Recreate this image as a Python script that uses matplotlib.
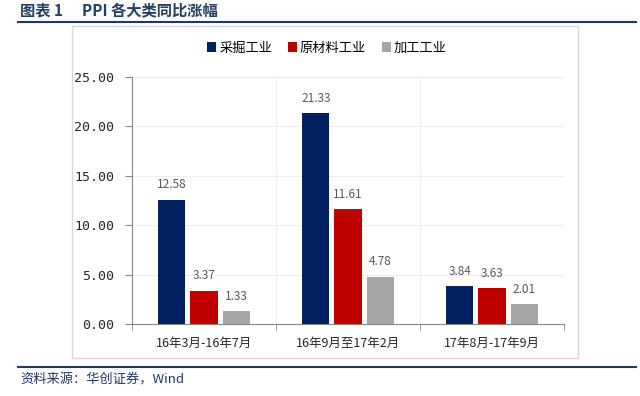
import numpy as np
import matplotlib
matplotlib.use('Agg')
import matplotlib.pyplot as plt
from matplotlib.patches import Rectangle
from matplotlib.lines import Line2D

plt.rcParams['font.family'] = ['Noto Sans CJK SC', 'DejaVu Sans']

# ---------------------------------------------------------
# data
# ---------------------------------------------------------
periods = ['16年3月-16年7月', '16年9月至17年2月', '17年8月-17年9月']
series_names = ['采掘工业', '原材料工业', '加工工业']
mining = [12.58, 21.33, 3.84]
raw_material = [3.37, 11.61, 3.63]
processing = [1.33, 4.78, 2.01]
colors = ['#002060', '#C00000', '#A6A6A6']

W, H = 640, 396
fig = plt.figure(figsize=(W / 100, H / 100), dpi=100)

# outer chart frame (light grey box)
fig.patches.append(Rectangle((72 / W, 1 - 358 / H), 506 / W, 332 / H,
                             transform=fig.transFigure, fill=False,
                             edgecolor='#D9D9D9', lw=1))

# title + rule lines
navy = '#1F3864'
fig.text(20 / W, 1 - 10 / H, '图表 1', fontsize=11,
         fontweight='bold', color='#243F60', va='center', ha='left')
fig.text(82 / W, 1 - 10 / H, 'PPI 各大类同比涨幅', fontsize=11,
         fontweight='bold', color='#243F60', va='center', ha='left')
fig.add_artist(Line2D([18 / W, 636 / W], [1 - 22 / H] * 2,
                      transform=fig.transFigure, color=navy, lw=1.5))
fig.add_artist(Line2D([18 / W, 636 / W], [1 - 367 / H] * 2,
                      transform=fig.transFigure, color=navy, lw=1.5))
fig.text(20 / W, 1 - 380 / H, '资料来源：华创证券，Wind', fontsize=9.5,
         style='italic', color=navy, va='center', ha='left')

ax = fig.add_axes([132 / W, 1 - 324 / H, 432 / W, 247 / H])

x = np.arange(len(periods))
pitch = 0.223
bw = 0.188
all_series = [mining, raw_material, processing]
for i, (vals, name, c) in enumerate(zip(all_series, series_names, colors)):
    pos = x + (i - 1) * pitch
    bars = ax.bar(pos, vals, width=bw, color=c, label=name, zorder=3)
    for b, v in zip(bars, vals):
        ax.annotate(f'{v:.2f}', (b.get_x() + b.get_width() / 2, v),
                    xytext=(0, 6), textcoords='offset points',
                    ha='center', va='bottom', fontsize=8.5, color='#595959')

ax.set_xlim(-0.5, 2.5)
ax.set_ylim(0, 25)
ax.set_yticks(np.arange(0, 26, 5))
ax.set_yticklabels([f'{t:.2f}' for t in np.arange(0, 26, 5)], fontsize=9.5,
                   family=['DejaVu Sans Mono'], color='#262626')
ax.set_xticks(x)
ax.set_xticklabels(periods, fontsize=9, color='#262626')
ax.set_xticks([-0.5, 0.5, 1.5, 2.5], minor=True)
ax.tick_params(axis='x', which='major', length=0, pad=9)
ax.tick_params(axis='x', which='minor', length=4, color='#868686')
ax.tick_params(axis='y', length=5, color='#868686', pad=8)

# light gridlines
ax.grid(axis='y', color='#EDEDED', lw=0.8, zorder=0)
ax.grid(axis='x', which='minor', color='#EDEDED', lw=0.8, zorder=0)

for s in ['top', 'right']:
    ax.spines[s].set_visible(False)
for s in ['left', 'bottom']:
    ax.spines[s].set_color('#868686')

ax.legend(loc='center', bbox_to_anchor=(327 / W, 1 - 48 / H),
          bbox_transform=fig.transFigure, ncol=3, frameon=False,
          fontsize=9.5, handlelength=0.7, handleheight=0.7,
          handletextpad=0.2, columnspacing=1.2)

fig.savefig('out.png', dpi=100)
